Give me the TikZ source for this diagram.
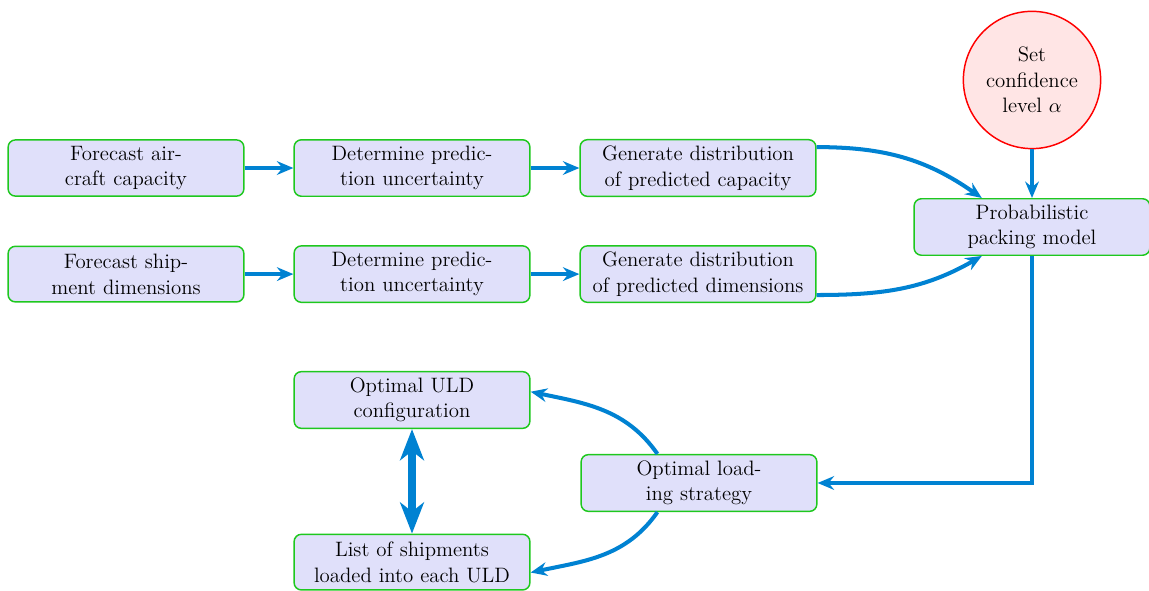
\documentclass[tikz,border=0pt]{standalone}
\usepackage{amsmath}
\usepackage{tikz}
\usetikzlibrary{positioning, arrows.meta, shapes.geometric}
\definecolor{flowblue}{RGB}{0,130,210}
\definecolor{boxgreen}{RGB}{30,200,30}
\definecolor{boxfill}{RGB}{224,224,250}
\tikzset{
->, % directed connectors
>={Stealth[length=9pt, width=7.5pt, inset=3pt]}, % bold arrow heads
node distance=5.5cm, % centre to centre along a row
every node/.style={font=\fontsize{11.4}{14}\selectfont}, % text size of the diagram
block/.style={rectangle, rounded corners=4pt, draw=boxgreen, thick, fill=boxfill, text width=4.3cm, align=center, minimum height=1.07cm}, % process boxes
param/.style={circle, draw=red, thick, fill=red!10, minimum size=2.64cm, align=center}, % user input
flow/.style={color=flowblue, line width=2.2pt}, % connectors
}

\begin{document}
\begin{tikzpicture}
                \useasboundingbox (0,0) rectangle (22.096,-11.346);

                \node[block] (fc_cap) at (2.423,-3.231) {Forecast air-\\craft capacity};
                \node[block, right of=fc_cap] (unc_cap) {Determine predic-\\tion uncertainty};
                \node[block, right of=unc_cap] (gen_cap) {Generate distribution\\of predicted capacity};

                \node[block, below of=fc_cap, node distance=2.04cm] (fc_dim) {Forecast ship-\\ment dimensions};
                \node[block, right of=fc_dim] (unc_dim) {Determine predic-\\tion uncertainty};
                \node[block, right of=unc_dim] (gen_dim) {Generate distribution\\of predicted dimensions};

                \node[block] (ppm) at (19.846,-4.365) {Probabilistic\\packing model};
                \node[param] (conf) at (19.846,-1.538) {Set\\confidence\\level $\alpha$};

                \node[block] (strat) at (13.442,-9.288) {Optimal load-\\ing strategy};
                \node[block] (uld) at (7.923,-7.692) {Optimal ULD\\configuration};
                \node[block] (ship) at (7.923,-10.81) {List of shipments\\loaded into each ULD};

                \path[flow]
                    (fc_cap) edge (unc_cap)
                    (unc_cap) edge (gen_cap)
                    (fc_dim) edge (unc_dim)
                    (unc_dim) edge (gen_dim)
                    (conf) edge (ppm)
                    (gen_cap.10) edge[out=0, in=145] (ppm.150)
                    (gen_dim.-10) edge[out=0, in=210] (ppm.210)
                    (strat.145) edge[out=125, in=-12] (uld.4)
                    (strat.215) edge[out=235, in=12] (ship.-5);
                \draw[flow] (ppm.south) |- (strat.east);
                \draw[flow, line width=4pt, {Stealth[length=17pt, width=13pt, inset=5pt]}-{Stealth[length=17pt, width=13pt, inset=5pt]}] (uld.south) -- (ship.north);
                \end{tikzpicture}
\end{document}
